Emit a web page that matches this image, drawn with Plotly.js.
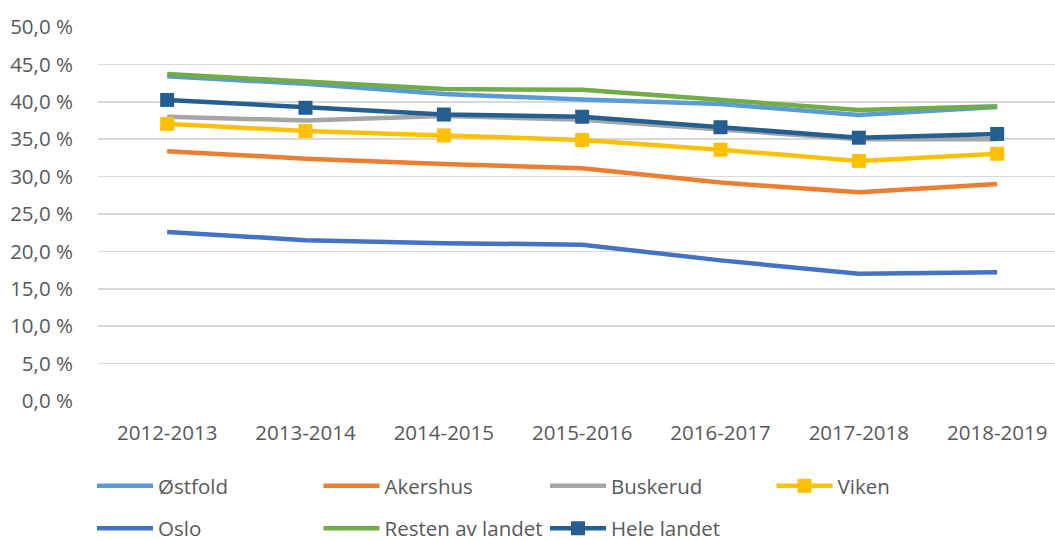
<!DOCTYPE html>
<html>
<head>
<meta charset="utf-8">
<script src="https://cdn.plot.ly/plotly-3.0.1.min.js"></script>
<style>html,body{margin:0;padding:0;background:#fff}#chart{width:1055px;height:539px}</style>
</head>
<body>
<div id="chart"></div>
<script>
var categories = ["2012-2013","2013-2014","2014-2015","2015-2016","2016-2017","2017-2018","2018-2019"];
var ostfold = [43.4, 42.4, 41.05, 40.3, 39.7, 38.25, 39.3];
var akershus = [33.4, 32.4, 31.7, 31.1, 29.2, 27.9, 29.0];
var buskerud = [38.0, 37.5, 38.1, 37.6, 36.3, 35.0, 35.0];
var viken = [37.05, 36.1, 35.5, 34.9, 33.6, 32.1, 33.05];
var oslo = [22.6, 21.5, 21.1, 20.9, 18.8, 17.0, 17.2];
var resten = [43.7, 42.7, 41.7, 41.6, 40.25, 38.9, 39.4];
var heleLandet = [40.25, 39.2, 38.3, 38.0, 36.6, 35.2, 35.7];
var yTickVals = [0,5,10,15,20,25,30,35,40,45,50];
var yTickText = ["0,0 %","5,0 %","10,0 %","15,0 %","20,0 %","25,0 %","30,0 %","35,0 %","40,0 %","45,0 %","50,0 %"];

var LW = 4.5;
function line(name, y, color, legend) {
  return {type:'scatter', mode:'lines', name:name, x:categories, y:y,
    line:{color:color, width:LW}, legend:legend, hoverinfo:'skip'};
}
function lineMk(name, y, color, legend) {
  return {type:'scatter', mode:'lines+markers', name:name, x:categories, y:y,
    line:{color:color, width:LW}, marker:{symbol:'square', size:14, color:color},
    legend:legend, hoverinfo:'skip'};
}
var traces = [
  line('Østfold', ostfold, '#5B9BD5', 'legend'),
  line('Akershus', akershus, '#ED7D31', 'legend'),
  line('Buskerud', buskerud, '#A5A5A5', 'legend'),
  lineMk('Viken', viken, '#FFC000', 'legend'),
  line('Oslo', oslo, '#4472C4', 'legend2'),
  line('Resten av landet', resten, '#70AD47', 'legend2'),
  lineMk('Hele landet', heleLandet, '#255E91', 'legend2')
];
var font = {family:'"Open Sans", sans-serif', size:20.5, color:'#595959'};
var legendBase = {
  orientation:'h', xref:'container', yref:'container', xanchor:'left', yanchor:'middle',
  font:font, itemwidth:56, entrywidthmode:'pixels', entrywidth:155.5,
  bgcolor:'rgba(0,0,0,0)', traceorder:'normal', itemclick:false
};
var layout = {
  width:1055, height:539,
  margin:{l:97.5, r:0, t:27, b:137.5, pad:0},
  paper_bgcolor:'#fff', plot_bgcolor:'#fff',
  font:font,
  showlegend:true,
  xaxis:{type:'category', range:[-0.5, 6.418], showgrid:false, zeroline:false,
    showline:false, ticks:'outside', ticklen:0, tickcolor:'rgba(0,0,0,0)',
    ticklabelstandoff:13, tickfont:font, fixedrange:true},
  yaxis:{range:[0,50], tickvals:yTickVals, ticktext:yTickText, showgrid:true,
    gridcolor:'#D9D9D9', gridwidth:1.5, zeroline:false, showline:false,
    ticks:'outside', ticklen:0, tickcolor:'rgba(0,0,0,0)', ticklabelstandoff:20,
    tickfont:font, fixedrange:true},
  legend:Object.assign({}, legendBase, {x:92/1055, y:1-486/539}),
  legend2:Object.assign({}, legendBase, {x:92/1055, y:1-528.5/539})
};
Plotly.newPlot('chart', traces, layout, {staticPlot:true, displayModeBar:false});
</script>
</body>
</html>
